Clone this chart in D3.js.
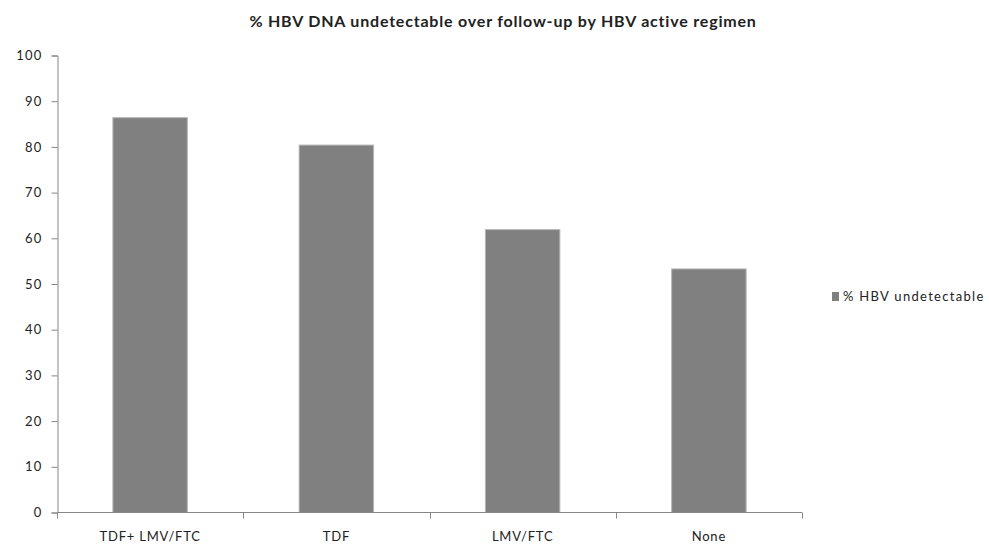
<!DOCTYPE html>
<html><head><meta charset="utf-8">
<script src="https://cdn.jsdelivr.net/npm/d3@7"></script>
<style>body{margin:0;background:#fff}svg{display:block}text{font-family:Lato,"Open Sans",sans-serif}</style>
</head><body>
<svg id="c" width="989" height="546"></svg>
<script>
const categories = ["TDF+ LMV/FTC","TDF","LMV/FTC","None"];
const values = [86.4, 80.4, 61.9, 53.3];
const yTicks = [0,10,20,30,40,50,60,70,80,90,100];
const seriesName = "% HBV undetectable";
const title = "% HBV DNA  undetectable over follow-up by HBV active regimen";

const svg = d3.select("#c");
const x = d3.scaleBand().domain(categories).range([57, 802]).paddingInner(0.6).paddingOuter(0.3);
const y = d3.scaleLinear().domain([0,100]).range([512.5, 55.5]);

svg.append("g").selectAll("rect").data(values).join("rect")
  .attr("x", (d,i)=>x(categories[i]))
  .attr("width", x.bandwidth())
  .attr("y", d=>y(d))
  .attr("height", d=>y(0)-y(d))
  .attr("fill","#808080").attr("stroke","#b8b8b8").attr("stroke-width",1);

const yAxis = svg.append("g").attr("transform","translate(57.5,0)")
  .call(d3.axisLeft(y).tickValues(yTicks).tickSize(6).tickPadding(9));
yAxis.select(".domain").attr("stroke","#868686");
yAxis.selectAll(".tick line").attr("stroke","#868686");
yAxis.selectAll("text").attr("font-size","13px").attr("fill","#222").attr("font-family","Lato, sans-serif").style("letter-spacing","1.2px");

const xAxis = svg.append("g").attr("transform","translate(0,512.5)")
  .call(d3.axisBottom(x).tickSize(0).tickPadding(19));
xAxis.select(".domain").remove();
xAxis.selectAll("text").attr("font-size","13px").attr("fill","#222").attr("font-family","Lato, sans-serif").style("letter-spacing","0.8px");
const step = x.step();
const edges = d3.range(categories.length+1).map(i => 57 + i*step);
svg.append("line").attr("x1",57).attr("x2",802).attr("y1",512.5).attr("y2",512.5).attr("stroke","#868686");
svg.append("g").selectAll("line").data(edges).join("line")
  .attr("x1",d=>Math.round(d)+0.5).attr("x2",d=>Math.round(d)+0.5).attr("y1",512.5).attr("y2",518.5).attr("stroke","#868686");

svg.append("text").attr("x",503).attr("y",27).attr("text-anchor","middle")
  .attr("font-size","16px").attr("font-weight","bold").attr("fill","#222").style("letter-spacing","0.8px").text(title);

svg.append("rect").attr("x",832).attr("y",292).attr("width",7).attr("height",9).attr("fill","#808080");
svg.append("text").attr("x",843).attr("y",300.7).attr("font-size","13px").attr("fill","#222").style("letter-spacing","1.3px").text(seriesName);
</script>
</body></html>
